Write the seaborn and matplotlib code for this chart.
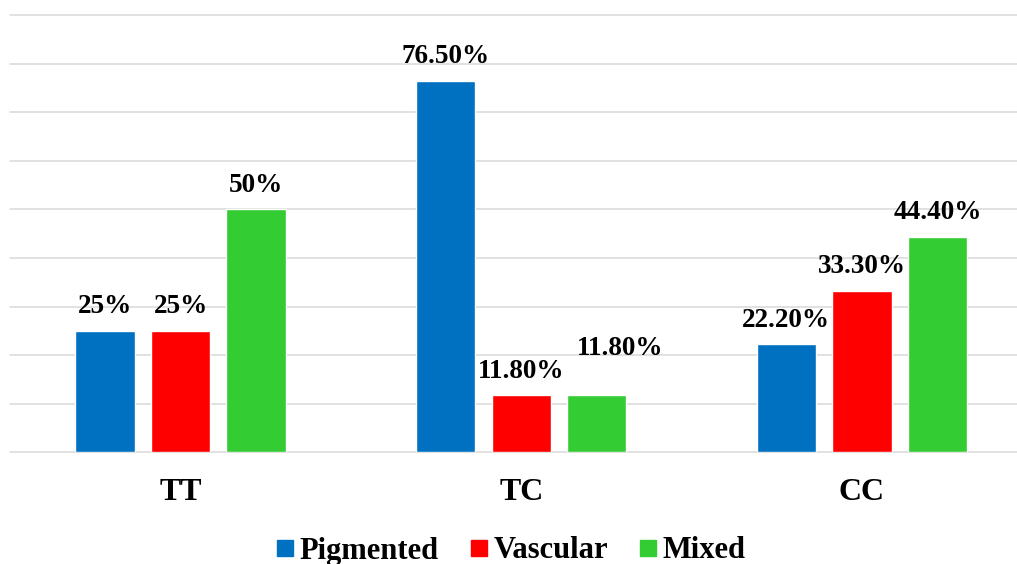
import matplotlib
matplotlib.use("Agg")
import matplotlib.pyplot as plt
from matplotlib.lines import Line2D
import pandas as pd
import seaborn as sns

# Lesion type share (%) per genotype
genotypes = ["TT", "TC", "CC"]
lesion_types = ["Pigmented", "Vascular", "Mixed"]
pigmented = [25, 76.5, 22.2]
vascular = [25, 11.8, 33.3]
mixed = [50, 11.8, 44.4]
colors = ["#0070C0", "#FF0000", "#33CC33"]

rows = []
for lt, vals in zip(lesion_types, [pigmented, vascular, mixed]):
    for g, v in zip(genotypes, vals):
        rows.append({"genotype": g, "type": lt, "pct": v})
df = pd.DataFrame(rows)

sns.set_theme(style="white")
plt.rcParams["font.family"] = ["Liberation Serif", "DejaVu Serif"]
plt.rcParams["font.weight"] = "bold"
plt.rcParams["text.color"] = "black"
plt.rcParams["xtick.color"] = "black"
plt.rcParams["xtick.labelcolor"] = "black"

fig = plt.figure(figsize=(10.17, 5.64), dpi=100)
ax = fig.add_axes([10.2 / 1017, 0.198, 1022 / 1017, 0.7754])

sns.barplot(data=df, x="genotype", y="pct", hue="type", order=genotypes,
            hue_order=lesion_types, palette=colors, saturation=1,
            width=0.665, gap=0.215, legend=False, ax=ax)

ax.set_xlim(-0.5, 2.5)
ax.set_ylim(0, 90)
ax.set_yticks(range(0, 91, 10))
ax.set_yticklabels([])
ax.set_axisbelow(True)
ax.grid(axis="y", color="#D9D9D9", linewidth=1.1)
ax.grid(axis="x", visible=False)
for gl in ax.get_ygridlines():
    gl.set_clip_on(False)
for s in ax.spines.values():
    s.set_visible(False)
ax.set_xlabel("")
ax.set_ylabel("")
ax.tick_params(axis="both", length=0)
ax.tick_params(axis="x", pad=18.5, labelsize=23, labelcolor="black")
for t in ax.get_xticklabels():
    t.set_fontweight("bold")
    t.set_color("black")

def fmt(v):
    return f"{int(v)}%" if float(v).is_integer() else f"{v:.2f}%"

# value labels; the small Mixed label in TC is nudged up and right
nudges = {(2, 1): (16.8, 16.3)}
for hi, cont in enumerate(ax.containers):
    for gi, bar in enumerate(cont):
        v = bar.get_height()
        dx, dy = nudges.get((hi, gi), (0, 0))
        ax.annotate(fmt(v), (bar.get_x() + bar.get_width() / 2, v),
                    xytext=(dx, 12.5 + dy), textcoords="offset points",
                    ha="center", va="baseline", fontsize=19.5,
                    fontweight="bold", color="black")

handles = [Line2D([], [], marker="s", linestyle="none", markersize=12,
                  markerfacecolor=c, markeredgecolor=c) for c in colors]
leg = fig.legend(handles, lesion_types, loc="center",
                 bbox_to_anchor=(511 / 1017, 1 - 551 / 564), ncol=3,
                 frameon=False, prop={"size": 22, "weight": "bold"},
                 handlelength=0.55, handletextpad=0.2, columnspacing=1.04,
                 borderpad=0, borderaxespad=0)
for t in leg.get_texts():
    t.set_color("black")

fig.savefig("out.png", dpi=100)
